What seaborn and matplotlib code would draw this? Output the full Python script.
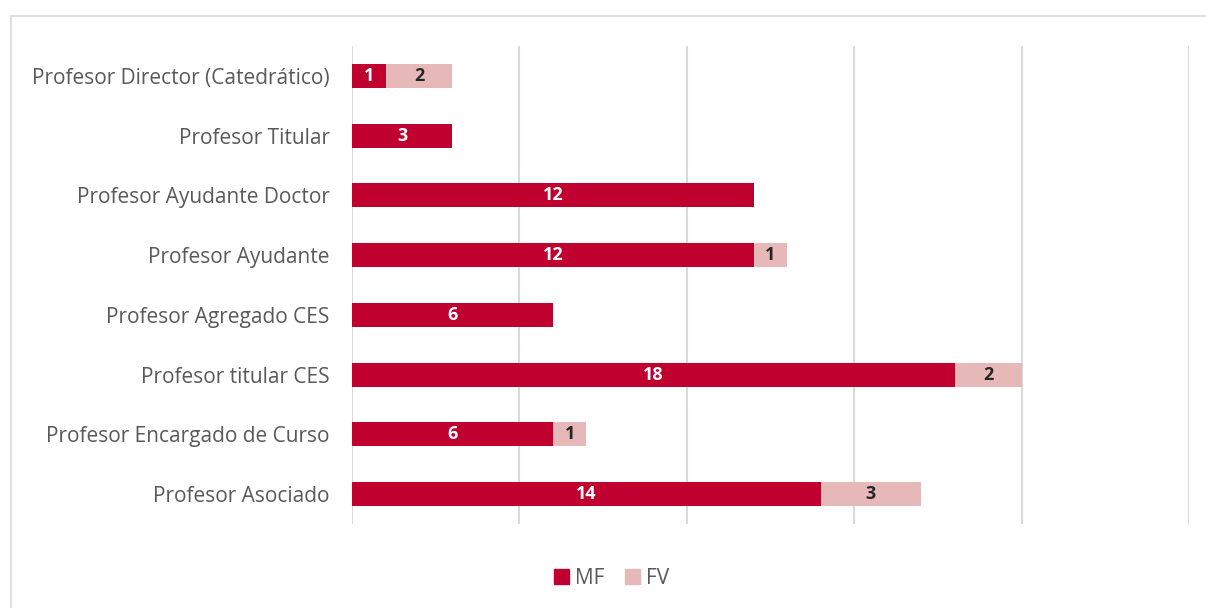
import numpy as np
import pandas as pd
import seaborn as sns
import matplotlib.pyplot as plt
from matplotlib.patches import Rectangle

categories = ['Profesor Director (Catedrático)', 'Profesor Titular', 'Profesor Ayudante Doctor',
              'Profesor Ayudante', 'Profesor Agregado CES', 'Profesor titular CES',
              'Profesor Encargado de Curso', 'Profesor Asociado']
mf = [1, 3, 12, 12, 6, 18, 6, 14]
fv = [2, 0, 0, 1, 0, 2, 1, 3]

red = '#C0002F'
pink = '#E6B9B8'


def main():
    df = pd.DataFrame({'cat': categories, 'MF': mf, 'FV': fv})
    df['total'] = df['MF'] + df['FV']

    sns.set_theme(style='white')
    plt.rcParams['font.family'] = ['Open Sans', 'DejaVu Sans']

    fig = plt.figure(figsize=(12.06, 6.08), dpi=100)
    ax = fig.add_axes([0.2919, 0.1382, 0.9859 - 0.2919, 0.9243 - 0.1382])

    # frame around the chart area
    fig.patches.append(Rectangle((11 / 1206, -0.1), 1.2, 1 - 16 / 608 + 0.1,
                                 transform=fig.transFigure, fill=False,
                                 edgecolor='#D9D9D9', linewidth=1.2))

    sns.barplot(data=df, x='total', y='cat', color=pink, width=0.4, ax=ax,
                saturation=1, orient='h', edgecolor='none')
    sns.barplot(data=df, x='MF', y='cat', color=red, width=0.4, ax=ax,
                saturation=1, orient='h', edgecolor='none')

    for i, row in df.iterrows():
        ax.text(row['MF'] / 2, i, str(row['MF']), ha='center', va='center',
                color='white', fontsize=13, fontweight='bold')
        if row['FV'] > 0:
            ax.text(row['MF'] + row['FV'] / 2, i, str(row['FV']), ha='center', va='center',
                    color='#262626', fontsize=13, fontweight='bold')

    ax.set_xlim(0, 25)
    ax.set_ylim(7.5, -0.5)
    ax.set_xticks(np.arange(0, 26, 5))
    ax.set_xticklabels([])
    ax.xaxis.grid(True, color='#D9D9D9', linewidth=1.5)
    ax.set_axisbelow(True)
    for s in ax.spines.values():
        s.set_visible(False)
    ax.tick_params(axis='both', length=0)
    ax.tick_params(axis='y', labelsize=15, labelcolor='#595959', pad=16)
    ax.set_xlabel('')
    ax.set_ylabel('')

    handles = [Rectangle((0, 0), 1, 1, color=red), Rectangle((0, 0), 1, 1, color=pink)]
    fig.legend(handles, ['MF', 'FV'], loc='center', bbox_to_anchor=(612 / 1206, 1 - 578 / 608),
               ncol=2, frameon=False, fontsize=15, labelcolor='#595959',
               handlelength=0.7, handleheight=0.7, handletextpad=0.3, columnspacing=1.0)

    fig.savefig('out.png', dpi=100)


if __name__ == '__main__':
    main()
